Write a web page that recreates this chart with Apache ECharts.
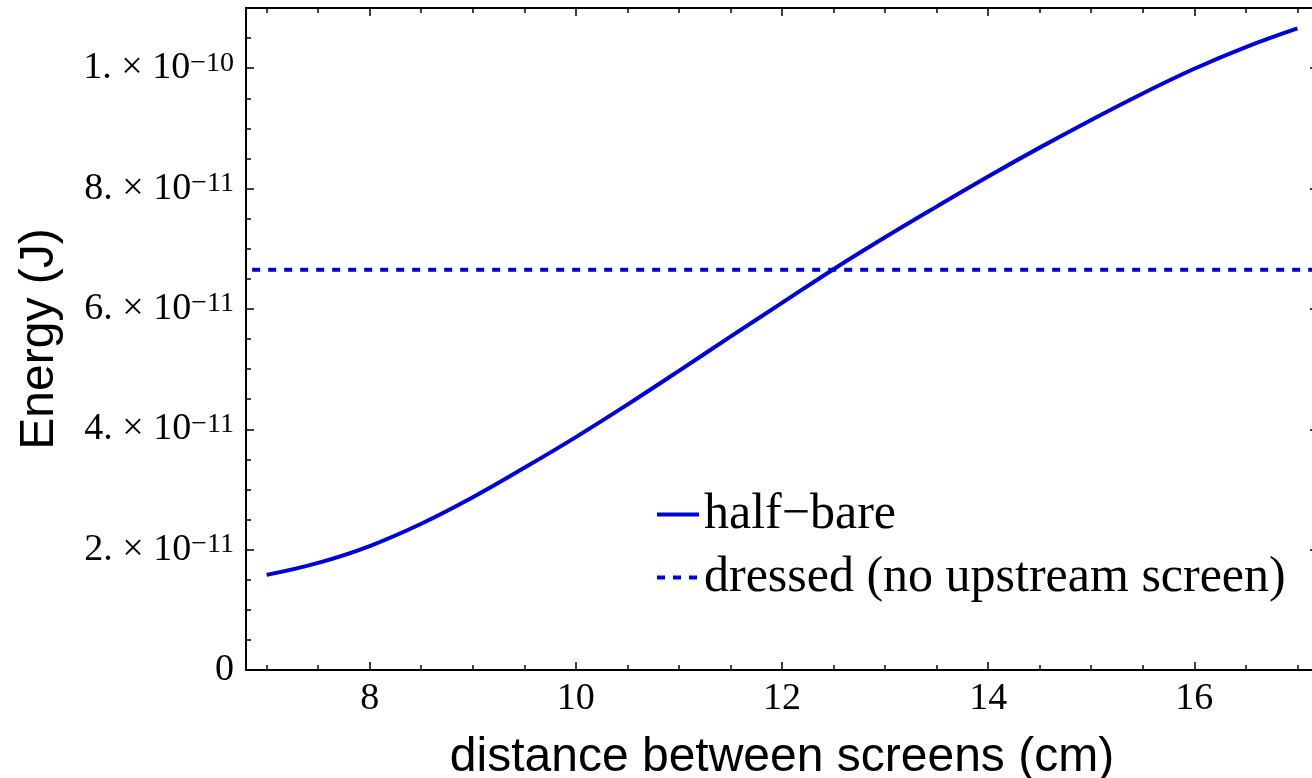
<!DOCTYPE html>
<html>
<head>
<meta charset="utf-8">
<script src="https://cdn.jsdelivr.net/npm/echarts@6/dist/echarts.min.js"></script>
<style>
html,body{margin:0;padding:0;background:#fff;overflow:hidden;}
#chart{width:1312px;height:778px;}
</style>
</head>
<body>
<div id="chart"></div>
<script>
// distance between screens (cm)
const distance = [7.0, 7.5, 8.0, 8.5, 9.0, 9.5, 10.0, 10.5, 11.0, 11.5, 12.0, 12.5, 13.0, 13.5, 14.0, 14.5, 15.0, 15.5, 16.0, 16.5, 17.0];
// half-bare energy (J)
const halfBare = [1.58e-11, 1.78e-11, 2.06e-11, 2.43e-11, 2.87e-11, 3.36e-11, 3.87e-11, 4.41e-11, 4.97e-11, 5.54e-11, 6.10e-11, 6.66e-11, 7.19e-11, 7.70e-11, 8.20e-11, 8.68e-11, 9.14e-11, 9.58e-11, 9.99e-11, 10.35e-11, 10.66e-11];
// dressed (no upstream screen): constant level
const dressedX = [6.86, 17.2];
const dressedLevel = 6.65e-11;
// ticks
const xMajorTicks = [8, 10, 12, 14, 16];
const xMinorTicks = [7, 7.5, 8.5, 9, 9.5, 10.5, 11, 11.5, 12.5, 13, 13.5, 14.5, 15, 15.5, 16.5, 17];
const yMajorTicks = [0, 2e-11, 4e-11, 6e-11, 8e-11, 1e-10];
const yMinorTicks = [0.5e-11, 1e-11, 1.5e-11, 2.5e-11, 3e-11, 3.5e-11, 4.5e-11, 5e-11, 5.5e-11, 6.5e-11, 7e-11, 7.5e-11, 8.5e-11, 9e-11, 9.5e-11, 10.5e-11];
const seriesNames = ['half\u2212bare', 'dressed (no upstream screen)'];

const X_MIN = 6.8, X_MAX = 17.2, Y_MIN = 0, Y_MAX = 1.1e-10;
const serif = 'Liberation Serif';
const sans = 'Liberation Sans';
const blue = '#0000dd';

function yFmt(v) {
  if (Math.abs(v) < 1e-20) return '{b|0}';
  const e = Math.floor(Math.log10(v) + 1e-9);
  const m = Math.round(v / Math.pow(10, e));
  return '{b|' + m + '. \u00d7 10}{s|\u2212' + (-e) + '}';
}

function xAxisDef(pos, ticks, len, withLabels) {
  return {
    type: 'value', position: pos, min: X_MIN, max: X_MAX,
    axisLine: {show: true, onZero: false, lineStyle: {color: '#000', width: 2}},
    axisTick: {show: true, inside: true, length: len, customValues: ticks, lineStyle: {color: '#000', width: 1.5}},
    axisLabel: withLabels ? {show: true, customValues: ticks, margin: 10, color: '#000', fontFamily: serif, fontSize: 38} : {show: false},
    splitLine: {show: false}
  };
}
function yAxisDef(pos, ticks, len, withLabels) {
  return {
    type: 'value', position: pos, min: Y_MIN, max: Y_MAX,
    axisLine: {show: true, onZero: false, lineStyle: {color: '#000', width: 2}},
    axisTick: {show: true, inside: true, length: len, customValues: ticks, lineStyle: {color: '#000', width: 1.5}},
    axisLabel: withLabels ? {
      show: true, customValues: ticks, margin: 12, color: '#000', formatter: yFmt,
      rich: {
        b: {fontFamily: serif, fontSize: 38, color: '#000', lineHeight: 38, padding: [7, 0, 0, 0], verticalAlign: 'bottom'},
        s: {fontFamily: serif, fontSize: 28, color: '#000', lineHeight: 28, verticalAlign: 'top'}
      }
    } : {show: false},
    splitLine: {show: false}
  };
}

const xMain = xAxisDef('bottom', xMajorTicks, 8, true);
xMain.name = 'distance between screens (cm)';
xMain.nameLocation = 'middle';
xMain.nameGap = 64;
xMain.nameTextStyle = {fontFamily: sans, fontSize: 48, color: '#000'};

const yMain = yAxisDef('left', yMajorTicks, 8, true);
yMain.name = 'Energy (J)';
yMain.nameLocation = 'middle';
yMain.nameGap = 182;
yMain.nameTextStyle = {fontFamily: sans, fontSize: 48, color: '#000'};

const chart = echarts.init(document.getElementById('chart'), null, {renderer: 'canvas'});
chart.setOption({
  backgroundColor: '#fff',
  animation: false,
  grid: {left: 246, top: 8, width: 1072, height: 662, containLabel: false, outerBoundsMode: 'none'},
  xAxis: [
    xMain,
    xAxisDef('bottom', xMinorTicks, 5, false),
    xAxisDef('top', xMajorTicks, 8, false),
    xAxisDef('top', xMinorTicks, 5, false)
  ],
  yAxis: [
    yMain,
    yAxisDef('left', yMinorTicks, 5, false),
    yAxisDef('right', yMajorTicks, 8, false),
    yAxisDef('right', yMinorTicks, 5, false)
  ],
  legend: {
    show: true, orient: 'vertical', left: 650, top: 484,
    itemWidth: 42, itemHeight: 14, itemGap: 12,
    itemStyle: {opacity: 0},
    lineStyle: {width: 4},
    textStyle: {fontFamily: serif, fontSize: 50, color: '#000', lineHeight: 51},
    data: seriesNames
  },
  series: [
    {
      name: seriesNames[0], type: 'line', xAxisIndex: 0, yAxisIndex: 0,
      data: distance.map((d, i) => [d, halfBare[i]]),
      smooth: 0.4, showSymbol: false, symbol: 'none',
      lineStyle: {color: blue, width: 4}, itemStyle: {color: blue}
    },
    {
      name: seriesNames[1], type: 'line', xAxisIndex: 0, yAxisIndex: 0,
      data: dressedX.map(d => [d, dressedLevel]),
      showSymbol: false, symbol: 'none',
      lineStyle: {color: blue, width: 4, type: [8, 8]}, itemStyle: {color: blue}
    }
  ]
});
</script>
</body>
</html>
